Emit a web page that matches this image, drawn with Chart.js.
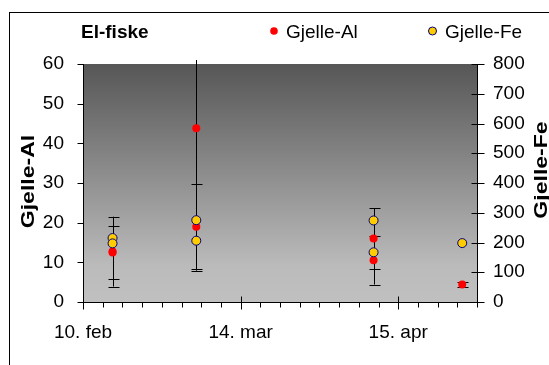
<!DOCTYPE html>
<html><head><meta charset="utf-8">
<script src="https://cdn.jsdelivr.net/npm/chart.js@4.4.0/dist/chart.umd.min.js"></script>
<style>html,body{margin:0;padding:0;background:#fff;overflow:hidden}canvas{display:block}</style>
</head><body>
<canvas id="c" width="549" height="365"></canvas>
<script>
// ---- data (days counted from 10. feb) ----
const xTickDays = [0, 32, 64];
const xTickLabels = ['10. feb', '14. mar', '15. apr'];
const alDays = [6, 6, 23, 23, 59, 59, 77];
const alValues = [12.7, 12.5, 43.8, 19.0, 16.0, 10.5, 4.4];
const alErrors = [8.8, 6.6, 35.9, 10.8, 7.6, 6.1, 0.6];
const feDays = [6, 6, 23, 23, 59, 59, 77];
const feValues = [215, 197, 275, 206, 274, 167, 198];
const titleText = 'El-fiske';
const alLabel = 'Gjelle-Al';
const feLabel = 'Gjelle-Fe';

const FONT = "'Liberation Sans', Arial, sans-serif";

const bgPlugin = {
  id: 'bg',
  beforeDraw(chart) {
    const {ctx, chartArea: a} = chart;
    const g = ctx.createLinearGradient(0, a.top, 0, a.bottom);
    g.addColorStop(0, '#565656');
    g.addColorStop(0.85, '#bbbbbb');
    g.addColorStop(1, '#c0c0c0');
    ctx.save();
    ctx.fillStyle = g;
    ctx.fillRect(a.left, a.top, a.right - a.left, a.bottom - a.top);
    ctx.restore();
  }
};

const errPlugin = {
  id: 'err',
  beforeDatasetsDraw(chart) {
    const {ctx, chartArea: a} = chart;
    const x = chart.scales.x, y = chart.scales.y;
    ctx.save();
    ctx.strokeStyle = '#000';
    ctx.lineWidth = 1;
    alValues.forEach((v, i) => {
      const px = Math.round(x.getPixelForValue(alDays[i])) + 0.5;
      const hi = y.getPixelForValue(v + alErrors[i]);
      const lo = y.getPixelForValue(v - alErrors[i]);
      const top = Math.max(hi, a.top - 4);
      ctx.beginPath();
      ctx.moveTo(px, top); ctx.lineTo(px, lo);
      if (hi >= a.top) { ctx.moveTo(px - 5, Math.round(hi) + 0.5); ctx.lineTo(px + 6, Math.round(hi) + 0.5); }
      ctx.moveTo(px - 5, Math.round(lo) + 0.5); ctx.lineTo(px + 6, Math.round(lo) + 0.5);
      ctx.stroke();
    });
    ctx.restore();
  }
};

const decoPlugin = {
  id: 'deco',
  afterDraw(chart) {
    const {ctx, chartArea: a} = chart;
    const x = chart.scales.x, y = chart.scales.y, y2 = chart.scales.y2;
    ctx.save();
    ctx.strokeStyle = '#000';
    ctx.lineWidth = 1;
    ctx.beginPath();
    const L = Math.round(a.left) + 0.5, R = Math.round(a.right) + 0.5, B = Math.round(a.bottom) + 0.5;
    y.ticks.forEach(t => { const p = Math.round(y.getPixelForValue(t.value)) + 0.5; ctx.moveTo(L - 6, p); ctx.lineTo(L, p); });
    y2.ticks.forEach(t => { const p = Math.round(y2.getPixelForValue(t.value)) + 0.5; ctx.moveTo(R - 6, p); ctx.lineTo(R + 7, p); });
    for (let d = 0; d <= x.max; d += 4) { const p = Math.round(x.getPixelForValue(d)) + 0.5; ctx.moveTo(p, B); ctx.lineTo(p, B + 5); }
    xTickDays.forEach(d => { const p = Math.round(x.getPixelForValue(d)) + 0.5; ctx.moveTo(p, B - 6); ctx.lineTo(p, B + 7); });
    ctx.stroke();
    ctx.strokeRect(9.5, 12.5, 1000, 1000);

    ctx.fillStyle = '#000';
    ctx.textBaseline = 'alphabetic';
    ctx.textAlign = 'left';
    ctx.font = 'bold 19px ' + FONT;
    ctx.fillText(titleText, 81, 38);
    ctx.font = '19px ' + FONT;
    ctx.beginPath(); ctx.arc(274, 31, 3.8, 0, Math.PI * 2); ctx.fillStyle = '#ff0000'; ctx.fill();
    ctx.fillStyle = '#000'; ctx.fillText(alLabel, 286, 38);
    ctx.beginPath(); ctx.arc(432.5, 31, 4, 0, Math.PI * 2); ctx.fillStyle = '#ffcc00'; ctx.fill();
    ctx.strokeStyle = '#000080'; ctx.stroke();
    ctx.fillStyle = '#000'; ctx.fillText(feLabel, 445, 38);

    ctx.font = 'bold 18px ' + FONT;
    ctx.textAlign = 'center';
    ctx.save();
    ctx.translate(33.5, 181.5); ctx.rotate(-Math.PI / 2); ctx.scale(1.28, 1);
    ctx.fillText(alLabel, 0, 0);
    ctx.restore();
    ctx.save();
    ctx.translate(547, 170); ctx.rotate(-Math.PI / 2); ctx.scale(1.28, 1);
    ctx.fillText(feLabel, 0, 0);
    ctx.restore();
    ctx.restore();
  }
};

const tickFont = {family: FONT, size: 19};

new Chart(document.getElementById('c'), {
  type: 'scatter',
  data: {
    datasets: [
      {
        label: alLabel, yAxisID: 'y', order: 1,
        data: alDays.map((d, i) => ({x: d, y: alValues[i]})),
        pointRadius: 4, pointHoverRadius: 4, pointBackgroundColor: '#ff0000', pointBorderWidth: 0,
        showLine: false
      },
      {
        label: feLabel, yAxisID: 'y2', order: 0,
        data: feDays.map((d, i) => ({x: d, y: feValues[i]})),
        pointRadius: 4.5, pointHoverRadius: 4.5, pointBackgroundColor: '#ffcc00', pointBorderColor: '#000080', pointBorderWidth: 1,
        showLine: false
      }
    ]
  },
  options: {
    responsive: false, animation: false, devicePixelRatio: 1,
    layout: {padding: {top: 64, left: 0, right: 0, bottom: 0}},
    plugins: {legend: {display: false}, tooltip: {enabled: false}, title: {display: false}},
    scales: {
      x: {
        type: 'linear', min: 0, max: 80,
        afterBuildTicks: s => { s.ticks = xTickDays.map(v => ({value: v})); },
        afterFit: s => { s.height = 63; },
        ticks: {font: tickFont, color: '#000', padding: 19, autoSkip: false, maxRotation: 0,
          callback: v => xTickLabels[xTickDays.indexOf(v)]},
        grid: {display: true, drawOnChartArea: false, drawTicks: false},
        border: {display: true, color: '#000', width: 1}
      },
      y: {
        position: 'left', min: 0, max: 60,
        afterFit: s => { s.width = 83; },
        ticks: {font: tickFont, color: '#000', padding: 19, stepSize: 10},
        grid: {display: true, drawOnChartArea: false, drawTicks: false},
        border: {display: true, color: '#000', width: 1}
      },
      y2: {
        position: 'right', min: 0, max: 800,
        afterFit: s => { s.width = 72; },
        ticks: {font: tickFont, color: '#000', padding: 16, stepSize: 100},
        grid: {display: true, drawOnChartArea: false, drawTicks: false},
        border: {display: true, color: '#000', width: 1}
      }
    }
  },
  plugins: [bgPlugin, errPlugin, decoPlugin]
});
</script>
</body></html>
